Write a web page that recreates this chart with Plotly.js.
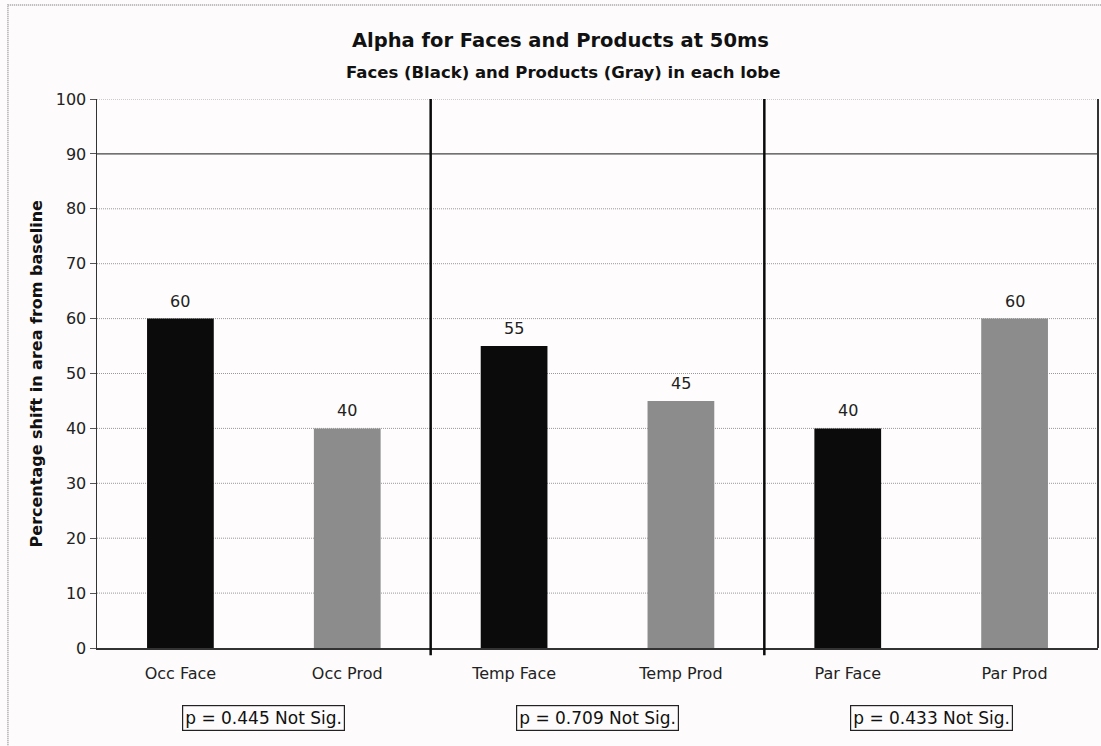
<!DOCTYPE html>
<html>
<head>
<meta charset="utf-8">
<script src="https://cdn.plot.ly/plotly-3.0.1.min.js"></script>
<style>html,body{margin:0;padding:0;background:#fdfbfb;}#chart{width:1101px;height:746px;}</style>
</head>
<body>
<div id="chart"></div>
<script>
const categories = ["Occ Face", "Occ Prod", "Temp Face", "Temp Prod", "Par Face", "Par Prod"];
const values = [60, 40, 55, 45, 40, 60];
const barColors = ["#0b0b0b", "#8c8c8c", "#0b0b0b", "#8c8c8c", "#0b0b0b", "#8c8c8c"];
const pLabels = ["p = 0.445 Not Sig.", "p = 0.709 Not Sig.", "p = 0.433 Not Sig."];
const pPositions = [0.5, 2.5, 4.5];
const separators = [1.5, 3.5];
const yTicks = [0, 10, 20, 30, 40, 50, 60, 70, 80, 90, 100];

const FONT = "DejaVu Sans, Verdana, sans-serif";

const trace = {
  type: "bar",
  x: categories,
  y: values,
  marker: {color: barColors, line: {width: 0}},
  cliponaxis: false,
  hoverinfo: "x+y"
};

const shapes = [];
// dotted gridlines (except 90 which is solid)
yTicks.forEach(v => {
  if (v === 0) return;
  shapes.push({type: "line", xref: "paper", yref: "y", x0: 0, x1: 1, y0: v, y1: v, layer: "below",
    line: {color: v === 90 ? "#444" : "#999", width: v === 90 ? 1.3 : 1, dash: v === 90 ? "solid" : "1px,1px"}});
});
// lobe separators
separators.forEach(s => {
  shapes.push({type: "line", xref: "x", yref: "paper", x0: s, x1: s, y0: -0.013, y1: 1, layer: "above",
    line: {color: "#0a0a0a", width: 2.5}});
});
// right edge of plot
shapes.push({type: "line", xref: "paper", yref: "paper", x0: 1, x1: 1, y0: 0, y1: 1, line: {color: "#333", width: 2}});
// outer chart border (dotted)
shapes.push({type: "rect", xref: "paper", yref: "paper", x0: -0.089, x1: 1.02, y0: -0.2, y1: 1.171,
  line: {color: "#999", width: 1.5, dash: "1px,1px"}, fillcolor: "rgba(0,0,0,0)"});

const annotations = [
  {text: "<b>Alpha for Faces and Products at 50ms</b>", xref: "paper", yref: "paper", x: 0.463, y: 1.106,
   showarrow: false, font: {family: FONT, size: 19.5, color: "#111"}, xanchor: "center", yanchor: "middle"},
  {text: "<b>Faces (Black) and Products (Gray) in each lobe</b>", xref: "paper", yref: "paper", x: 0.466, y: 1.049,
   showarrow: false, font: {family: FONT, size: 16.5, color: "#111"}, xanchor: "center", yanchor: "middle"},
  {text: "<b>Percentage shift in area from baseline</b>", xref: "paper", yref: "paper", x: -0.06, y: 0.5,
   textangle: -90, showarrow: false, font: {family: FONT, size: 16, color: "#111"}, xanchor: "center", yanchor: "middle"}
];
categories.forEach((c, i) => {
  annotations.push({text: String(values[i]), xref: "x", yref: "y", x: c, y: values[i], yanchor: "bottom",
    yshift: 6, showarrow: false, font: {family: FONT, size: 16, color: "#222"}});
});
pLabels.forEach((t, i) => {
  annotations.push({text: t, xref: "x", yref: "paper", x: pPositions[i], y: -0.128, showarrow: false,
    font: {family: FONT, size: 17, color: "#111"}, bordercolor: "#222", borderwidth: 1.2, borderpad: 2,
    bgcolor: "rgba(255,255,255,0)", xanchor: "center", yanchor: "middle"});
});

const layout = {
  width: 1101, height: 746,
  margin: {l: 97, r: 3, t: 99, b: 98},
  paper_bgcolor: "#fdfbfb",
  plot_bgcolor: "#fefcfc",
  showlegend: false,
  bargap: 0.6,
  xaxis: {type: "category", showgrid: false, showline: true, linecolor: "#333", linewidth: 1.5,
    ticks: "", tickfont: {family: FONT, size: 16, color: "#222"}, ticklabelstandoff: 10, zeroline: false,
    fixedrange: true},
  yaxis: {range: [0, 100], tickvals: yTicks, showgrid: false, zeroline: false, showline: true,
    linecolor: "#333", linewidth: 1.5, ticks: "outside", ticklen: 6, tickcolor: "#555",
    tickfont: {family: FONT, size: 16, color: "#222"}, fixedrange: true},
  shapes: shapes,
  annotations: annotations
};

Plotly.newPlot("chart", [trace], layout, {displayModeBar: false, staticPlot: true});
</script>
</body>
</html>
